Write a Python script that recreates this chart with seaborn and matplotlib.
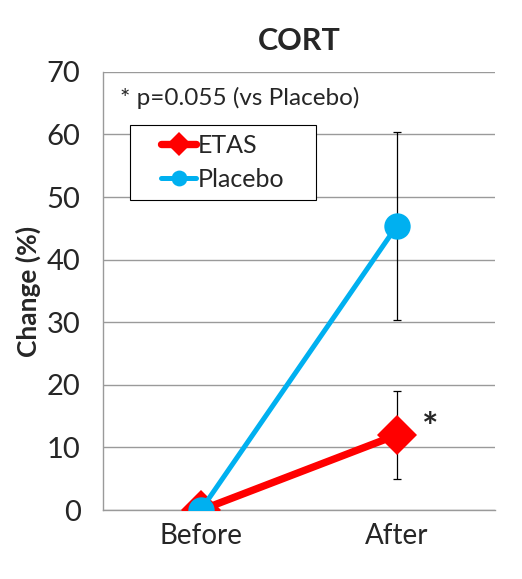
import numpy as np
import pandas as pd
import matplotlib
matplotlib.use('Agg')
import matplotlib.pyplot as plt
from matplotlib.lines import Line2D
from matplotlib.legend_handler import HandlerLine2D
import seaborn as sns

# values
timepoints = ['Before', 'After']
etas_mean = [0, 12]
etas_err = [0, 7]
placebo_mean = [0, 45.4]
placebo_err = [0, 15]
yticks = [0, 10, 20, 30, 40, 50, 60, 70]

sns.set_style('white')
plt.rcParams['font.family'] = ['Lato', 'DejaVu Sans']

df = pd.DataFrame({
    'time': timepoints * 2,
    'change': etas_mean + placebo_mean,
    'err': etas_err + placebo_err,
    'group': ['ETAS'] * 2 + ['Placebo'] * 2,
})

fig = plt.figure(figsize=(5.22, 5.79), dpi=100)
ax = fig.add_axes([0.197, 0.119, 0.751, 0.757])

styles = {
    'ETAS': dict(color='#ff0000', marker='D', ms=20, lw=5.3),
    'Placebo': dict(color='#00b0f0', marker='o', ms=19, lw=3.6),
}

xpos = np.arange(len(timepoints))
for i, (name, sub) in enumerate(df.groupby('group', sort=False)):
    st = styles[name]
    # error bars first so markers sit on top
    ax.errorbar(xpos, sub['change'], yerr=sub['err'], fmt='none',
                ecolor='black', elinewidth=0.9, capsize=3, capthick=0.9,
                zorder=2 + i * 2)
    sns.lineplot(x=xpos, y=sub['change'].values, ax=ax, color=st['color'],
                 marker=st['marker'], markersize=st['ms'], linewidth=st['lw'],
                 markeredgewidth=0, label=name, zorder=3 + i * 2, legend=False)

ax.set_xlim(-0.5, 1.5)
ax.set_ylim(0, 70)
ax.set_yticks(yticks)
ax.set_xticks(xpos, timepoints)
ax.set_xticks([-0.5, 0.5, 1.5], minor=True)
ax.tick_params(axis='x', which='major', length=0, pad=9, labelsize=20)
ax.tick_params(axis='x', which='minor', length=8, width=1, color='#9a9a9a',
               direction='out')
ax.tick_params(axis='y', length=8, width=1, color='#9a9a9a', direction='out',
               labelsize=21, pad=8)
ax.yaxis.grid(True, color='#9a9a9a', linewidth=1)
ax.set_axisbelow(True)

for side in ['top', 'right']:
    ax.spines[side].set_visible(False)
for side in ['left', 'bottom']:
    ax.spines[side].set_color('#9a9a9a')
    ax.spines[side].set_linewidth(1)

ax.set_ylabel('Change (%)', fontsize=19, fontweight='bold', labelpad=4)
ax.set_xlabel('')
ax.set_title('CORT', fontsize=22, fontweight='bold', pad=16)

ax.text(0.045, 0.94, '* p=0.055 (vs Placebo)', transform=ax.transAxes,
        fontsize=17.5, va='center', ha='left')
ax.text(1.17, 13.0, '*', fontsize=28, fontweight='bold', ha='center',
        va='center')

# legend box spans roughly x 130-316 px, y 125-195 px
leg_h = 70 / 438
handles = [h for h in ax.get_lines() if h.get_label() in styles]
leg = ax.legend(handles=handles, loc='upper left',
                bbox_to_anchor=(0.069, 0.879 - leg_h, 186 / 392, leg_h),
                mode='expand', borderaxespad=0, fontsize=18, frameon=True,
                fancybox=False, edgecolor='black', framealpha=1,
                markerscale=0.6, handlelength=2.3, handletextpad=0.05,
                borderpad=0.35, labelspacing=0.45, handleheight=0.6,
                handler_map={Line2D: HandlerLine2D(xpad=0.9)})
leg.get_frame().set_linewidth(0.8)

fig.savefig('out.png', dpi=100, facecolor='white')
